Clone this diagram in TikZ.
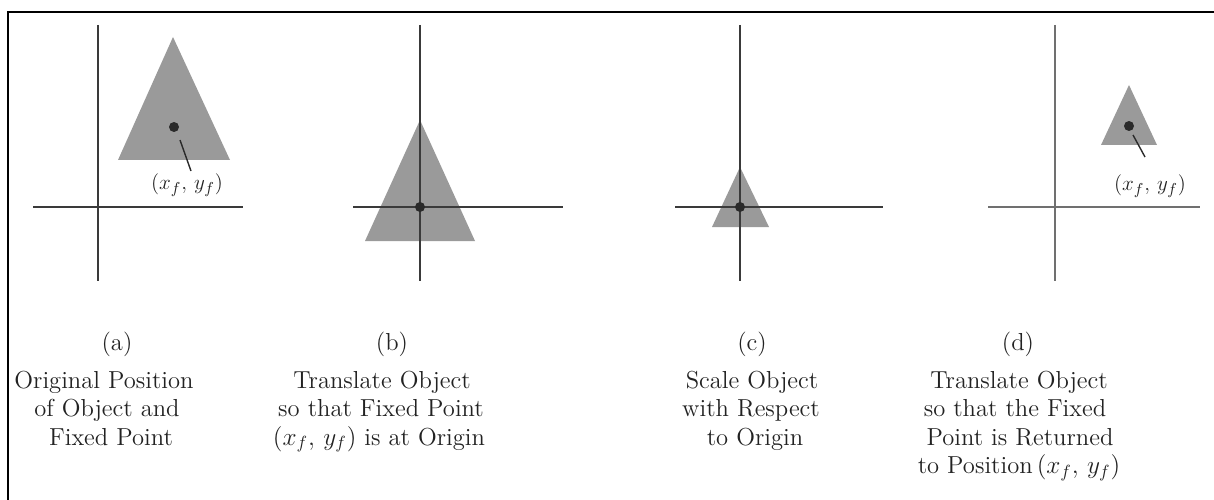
\documentclass[tikz,border=0pt]{standalone}
\definecolor{axisgray}{HTML}{3A3A3A}
\definecolor{axislight}{HTML}{707070}
\definecolor{trigray}{HTML}{9A9A9A}
\definecolor{dotgray}{HTML}{2A2A2A}
\definecolor{textgray}{HTML}{222222}
\newcommand{\fxp}{$(x_f,\, y_f)$}
\tikzset{
  axis/.style={draw=axisgray, line width=1.1pt},
  axisd/.style={draw=axislight, line width=1.1pt},
  tri/.style={fill=trigray},
  fixdot/.style={circle, fill=dotgray, inner sep=0pt, minimum size=0.2cm},
  leader/.style={draw=dotgray, line width=0.8pt},
  lbl/.style={text=textgray, inner sep=0pt, anchor=base},
  ptlbl/.style={lbl, font=\fontsize{13}{15}\selectfont},
  frame/.style={draw=black, line width=1.2pt}
}
\begin{document}
\begin{tikzpicture}[x=0.02cm, y=-0.02cm, font=\fontsize{14}{16}\selectfont]
\useasboundingbox (0,0) rectangle (1214,500);
% frame
\coordinate (fBL) at (8,500);
\coordinate (fTL) at (8,12);
\coordinate (fTR) at (1214,12);
\draw[frame] (fBL) -- (fTL) -- (fTR);

% ---------- panel (a)
\fill[tri] (173,37) -- (230,160) -- (118,160) -- cycle;
\coordinate (aT) at (98,25); \coordinate (aB) at (98,281);
\coordinate (aL) at (33,207); \coordinate (aR) at (243,207);
\draw[axis] (aT) -- (aB);
\draw[axis] (aL) -- (aR);
\node[fixdot] (aDot) at (174,127) {};
\coordinate (aL1) at (180,140); \coordinate (aL2) at (191,171);
\draw[leader] (aL1) -- (aL2);
\node[ptlbl] (aLab) at (187,190) {\fxp};

% ---------- panel (b)
\fill[tri] (420,120) -- (475,241) -- (365,241) -- cycle;
\coordinate (bT) at (420,25); \coordinate (bB) at (420,281);
\coordinate (bL) at (353,207); \coordinate (bR) at (563,207);
\draw[axis] (bT) -- (bB);
\draw[axis] (bL) -- (bR);
\node[fixdot] (bDot) at (420,207) {};

% ---------- panel (c)
\fill[tri] (740,167) -- (769,227) -- (712,227) -- cycle;
\coordinate (cT) at (740,25); \coordinate (cB) at (740,281);
\coordinate (cL) at (675,207); \coordinate (cR) at (883,207);
\draw[axis] (cT) -- (cB);
\draw[axis] (cL) -- (cR);
\node[fixdot] (cDot) at (740,207) {};

% ---------- panel (d)
\fill[tri] (1129,85) -- (1157,145) -- (1101,145) -- cycle;
\coordinate (dT) at (1055,25); \coordinate (dB) at (1055,281);
\coordinate (dL) at (988,207); \coordinate (dR) at (1200,207);
\draw[axisd] (dT) -- (dB);
\draw[axisd] (dL) -- (dR);
\node[fixdot] (dDot) at (1129,126) {};
\coordinate (dL1) at (1133,135); \coordinate (dL2) at (1145,157);
\draw[leader] (dL1) -- (dL2);
\node[ptlbl] (dLab) at (1150,191) {\fxp};

% ---------- captions
\node[lbl] (capa) at (117,350) {(a)};
\node[lbl] (capa1) at (104,388) {Original Position};
\node[lbl] (capa2) at (107,416.5) {of Object and};
\node[lbl] (capa3) at (111,445) {Fixed Point};

\node[lbl] (capb) at (392,350) {(b)};
\node[lbl] (capb1) at (382,388) {Translate Object};
\node[lbl] (capb2) at (381,416.5) {so that Fixed Point};
\node[lbl] (capb3) at (379,445) {\fxp{} is at Origin};

\node[lbl] (capc) at (752,350) {(c)};
\node[lbl] (capc1) at (752,388) {Scale Object};
\node[lbl] (capc2) at (751,416.5) {with Respect};
\node[lbl] (capc3) at (755,445) {to Origin};

\node[lbl] (capd) at (1018,350) {(d)};
\node[lbl] (capd1) at (1019,388) {Translate Object};
\node[lbl] (capd2) at (1015,416.5) {so that the Fixed};
\node[lbl] (capd3) at (1020,445) {Point is Returned};
\node[lbl] (capd4) at (1019,473.5) {to Position\,\fxp};
\end{tikzpicture}
\end{document}
